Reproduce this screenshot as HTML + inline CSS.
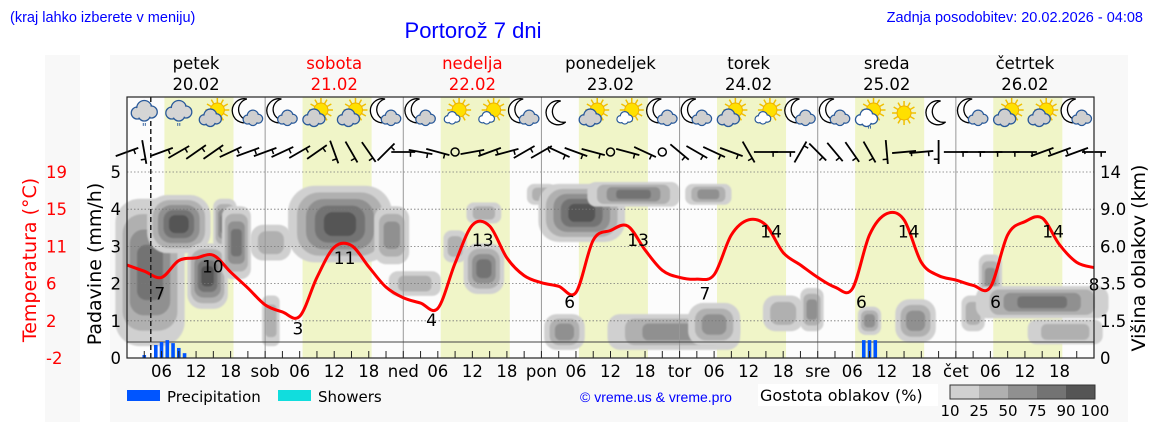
<!DOCTYPE html>
<html><head><meta charset="utf-8">
<style>
html,body{margin:0;padding:0;background:#fff;width:1152px;height:443px;overflow:hidden}
svg{display:block}
.t{font-family:"DejaVu Sans","Liberation Sans",sans-serif}
.b{font-family:"Liberation Sans","DejaVu Sans",sans-serif}
</style></head><body>
<svg id="chart" width="1152" height="443" viewBox="0 0 1152 443" xmlns="http://www.w3.org/2000/svg">
<rect x="45" y="55" width="35" height="367" fill="#f8f8f8"/>
<rect x="110" y="55" width="1018" height="367" fill="#f8f8f8"/>
<text class="b" x="10" y="22" font-size="14.5" fill="#0000ff">(kraj lahko izberete v meniju)</text>
<text class="b" x="473" y="38" font-size="22" fill="#0000ff" text-anchor="middle">Portorož 7 dni</text>
<text class="b" x="1143" y="22" font-size="14.5" fill="#0000ff" text-anchor="end">Zadnja posodobitev: 20.02.2026 - 04:08</text>
<g id="plot"></g>
<g id="axes"></g>
<text class="t" transform="translate(36,260) rotate(-90)" font-size="19" fill="#ff0000" text-anchor="middle">Temperatura (°C)</text>
<text class="t" transform="translate(101,264) rotate(-90)" font-size="19" fill="#000" text-anchor="middle">Padavine (mm/h)</text>
<text class="t" transform="translate(1145,258) rotate(-90)" font-size="19" fill="#000" text-anchor="middle">Višina oblakov (km)</text>
<g>
<rect x="127" y="390" width="33" height="11" fill="#0055ff"/>
<text class="t" x="167" y="402" font-size="15">Precipitation</text>
<rect x="278" y="390" width="33" height="11" fill="#11dddd"/>
<text class="t" x="318" y="402" font-size="15">Showers</text>
<text class="b" x="580" y="402" font-size="14" fill="#0000ff">© vreme.us &amp; vreme.pro</text>
<rect x="758" y="384" width="180" height="22" fill="#fff"/>
<text class="t" x="760" y="401" font-size="16">Gostota oblakov (%)</text>
<g id="cbar"></g>
</g>
</svg>
<script>
// ---- data ----
const tempHours = [0,3,6,9,12,15,18,21,24,27,30,33,36,39,42,45,48,51,54,57,60,63,66,69,72,75,78,81,84,87,90,93,96,99,102,105,108,111,114,117,120,123,126,129,132,135,138,141,144,147,150,153,156,159,162,165,168];
const tempValues = [8.5,7.8,7.1,9.0,9.3,9.6,7.7,5.9,4.0,3.2,2.7,7.1,10.5,10.7,8.3,6.0,4.8,4.2,3.6,8.7,13.0,12.9,9.3,7.3,6.5,6.1,5.4,11.3,12.4,12.9,10.2,7.9,7.1,6.9,7.4,11.9,13.6,13.0,9.9,8.5,7.1,6.0,5.8,11.9,14.3,13.6,8.8,7.3,6.8,6.2,6.0,11.9,13.4,13.8,10.8,8.8,8.2];
const tempLabelHours = [5.7,14.9,29.7,37.8,52.9,61.8,76.9,88.8,100.4,111.9,127.6,135.8,150.9,160.9,168];
const tempLabelValues = [7,10,3,11,4,13,6,13,7,14,6,14,6,14,8];
const precipHours = [3,5,6,7,8,9,10,128,129,130];
const precipValues = [0.08,0.35,0.43,0.48,0.4,0.27,0.13,0.48,0.48,0.48];
const precipTicks = [0,1,2,3,4,5];
const tempTicks = [19,15,11,6,2,-2];
const heightTicks = ["0","1.5","3.5","6.0","9.0","14"];
const dayNames = ["petek","sobota","nedelja","ponedeljek","torek","sreda","četrtek"];
const dayDates = ["20.02","21.02","22.02","23.02","24.02","25.02","26.02"];
const dayAbbr = ["","sob","ned","pon","tor","sre","čet"];
const iconTypes = ["rain","rain","suncloud","mooncloud","mooncloud","suncloud","suncloud","mooncloud","mooncloud","sunsmall","sunsmall","mooncloud","moon","suncloud","sunsmall","mooncloud","mooncloud","suncloud","sunsmall","mooncloud","mooncloud","sunrain","sun","moon","mooncloud","suncloud","suncloud","mooncloud"];
const windAngles = [-20,80,-20,-30,-35,-35,-25,-20,-20,-25,-30,-35,70,60,55,-45,0,10,15,999,-10,-20,-15,-30,-30,25,20,15,999,15,25,999,40,30,25,20,60,0,0,-60,45,50,55,60,85,-5,-5,90,0,0,0,0,0,-20,-20,-20,0];
// clouds: hour, level (mm/h-axis units), duration h, thickness, density %
const cloudHour = [4,9,14,17,19,25,25,37,46,50,57,62,62,72,79,76,88,101,95,102,114,119,129,137,147,150,159,163];
const cloudLevel = [2.3,3.6,2.2,3.6,3.1,3.1,1.0,3.6,3.3,2.0,3.0,2.4,3.9,4.4,3.9,0.7,4.4,4.4,0.7,0.9,1.2,1.3,1.0,1.0,1.2,2.1,1.5,0.7];
const cloudDur = [11,10,6,3,4,6,2,17,5,8,3,6,5,4,14,6,15,7,22,8,6,3,3,6,3,3,22,12];
const cloudThick = [3.8,1.4,1.6,1.2,1.8,0.8,1.2,1.9,1.4,0.5,0.7,1.2,0.4,0.4,1.4,0.8,0.5,0.4,0.8,1.0,0.8,1.0,0.6,1.0,0.8,1.2,0.7,0.5];
const cloudDens = [75,90,90,75,75,25,25,90,50,25,25,75,25,25,90,50,75,50,50,50,25,50,50,50,25,50,75,25];
const cbarLevels = [10,25,50,75,90,100];

// ---- scales ----
const X0=127, X1=1094, Y0=97, YB=358;
const xh = h => X0 + h*(X1-X0)/168;
const yP = v => YB - v*37.2;
const yT = t => YB - (t+2)*8.857;
const NS="http://www.w3.org/2000/svg";
function mk(tag, attrs, parent){const e=document.createElementNS(NS,tag);for(const k in attrs)e.setAttribute(k,attrs[k]);parent.appendChild(e);return e;}
const plot=document.getElementById('plot'), axes=document.getElementById('axes');
const shade = d => d>=90?'#555555':d>=75?'#737373':d>=50?'#909090':d>=25?'#b0b0b0':'#d0d0d0';

let e=mk('rect',{x:X0,y:Y0,width:X1-X0,height:YB-Y0,fill:'#fcfcfc'},plot);


for(let d=0;d<7;d++){
  e=mk('rect',{x:xh(d*24+6.5),y:Y0,width:xh(18.5)-xh(6.5),height:YB-Y0,fill:'#f0f5c8'},plot);
  
  
}
const defs=mk('defs',{},plot);
const f=mk('filter',{id:'bl',x:'-30%',y:'-30%',width:'160%',height:'160%'},defs);
mk('feGaussianBlur',{stdDeviation:'0.8'},f);
const levels=[10,25,50,75,90];
for(let i=0;i<cloudHour.length;i++){
  const g=mk('g',{filter:'url(#bl)'},plot);
  
  
  const cx=xh(cloudHour[i]), cy=yP(cloudLevel[i]);
  const w=(xh(cloudDur[i])-xh(0))+6, hgt=cloudThick[i]*37.2+6;
  const lv=levels.filter(l=>l<=cloudDens[i]);
  lv.forEach((l,k)=>{
    const s=1-k/(lv.length+0.8);
    const ww=w*s, hh=hgt*s;
    mk('rect',{x:cx-ww/2,y:cy-hh/2,width:ww,height:hh,rx:Math.min(ww,hh)*0.35,fill:shade(l)},g);
  });
}
for(const v of [1,2,3,4,5]){
  e=mk('line',{x1:X0,x2:X1,y1:yP(v),y2:yP(v),stroke:'#777','stroke-dasharray':'1.5,2','stroke-width':0.8},plot);
  
  
}
for(let d=1;d<7;d++){
  e=mk('line',{x1:xh(d*24),x2:xh(d*24),y1:Y0,y2:YB,stroke:'#999','stroke-width':1},plot);
  
  
}
e=mk('line',{x1:X0,x2:X1,y1:342,y2:342,stroke:'#444','stroke-width':1},plot);


for(let i=0;i<precipHours.length;i++){
  e=mk('rect',{x:xh(precipHours[i])-1.8,y:yP(precipValues[i]),width:3.6,height:YB-yP(precipValues[i]),fill:'#0055ff'},plot);
  
  
}
const pts=tempHours.map((h,i)=>[xh(h),yT(tempValues[i])]);
let dstr='M'+pts[0][0]+','+pts[0][1];
for(let i=0;i<pts.length-1;i++){
  const p0=pts[Math.max(0,i-1)],p1=pts[i],p2=pts[i+1],p3=pts[Math.min(pts.length-1,i+2)];
  dstr+=' C'+(p1[0]+(p2[0]-p0[0])/6)+','+(p1[1]+(p2[1]-p0[1])/6)+' '+(p2[0]-(p3[0]-p1[0])/6)+','+(p2[1]-(p3[1]-p1[1])/6)+' '+p2[0]+','+p2[1];
}
e=mk('path',{d:dstr,fill:'none',stroke:'#ff0000','stroke-width':3,'stroke-linejoin':'round'},plot);


for(let i=0;i<tempLabelHours.length;i++){
  e=mk('text',{x:xh(tempLabelHours[i]),y:yT(tempLabelValues[i])+21,'font-size':17,'text-anchor':'middle',class:'t',fill:'#000'},plot);
  e.textContent=tempLabelValues[i];
  
  
}
e=mk('line',{x1:xh(4.13),x2:xh(4.13),y1:Y0,y2:YB,stroke:'#222','stroke-width':1.5,'stroke-dasharray':'5,3'},plot);


function cloud(g,x,y,s,fill){
  for(const c of [[-7,2,6],[0,-3,7.5],[7,1,6],[0,4,6]])mk('circle',{cx:x+c[0]*s,cy:y+c[1]*s,r:c[2]*s,fill:fill,stroke:'#2a5a9a','stroke-width':1.3},g);
  for(const c of [[-7,2,5],[0,-3,6.5],[7,1,5],[0,4,5]])mk('circle',{cx:x+c[0]*s,cy:y+c[1]*s,r:c[2]*s,fill:fill},g);
}
function sun(g,x,y){
  for(let a=0;a<360;a+=30){const r=a*Math.PI/180;mk('line',{x1:x+7*Math.cos(r),y1:y+7*Math.sin(r),x2:x+12*Math.cos(r),y2:y+12*Math.sin(r),stroke:'#f0c000','stroke-width':1.5},g);}
  mk('circle',{cx:x,cy:y,r:7,fill:'#ffe000',stroke:'#f0b000'},g);
}
function moon(g,x,y){
  mk('path',{d:`M${x+2},${y-12} A12,12 0 1,0 ${x+7},${y+9} A10,10 0 0,1 ${x+2},${y-12}Z`,fill:'#fff',stroke:'#000','stroke-width':1.3},g);
}
iconTypes.forEach((t,i)=>{
  const x=xh(3+i*6), y=113;
  const g=mk('g',{},plot);
  
  
  if(t==='rain'){cloud(g,x,y-2,1,'#d5d5d5');mk('text',{x:x,y:y+18,'font-size':11,'text-anchor':'middle',fill:'#2a5a9a',class:'t'},g).textContent='"';}
  if(t==='suncloud'||t==='sunsmall'||t==='sunrain'){sun(g,x+4,y-3);cloud(g,x-3,y+5,t==='sunsmall'?0.6:0.85,t==='suncloud'?'#cfcfcf':'#fff');if(t==='sunrain')mk('text',{x:x,y:y+20,'font-size':10,'text-anchor':'middle',fill:'#2a5a9a',class:'t'},g).textContent='"';}
  if(t==='sun')sun(g,x,y);
  if(t==='moon')moon(g,x,y);
  if(t==='mooncloud'){moon(g,x-3,y-2);cloud(g,x+5,y+5,0.75,'#cfcfcf');}
});
windAngles.forEach((a,i)=>{
  const x=xh(i*3), y=152;
  const g=mk('g',{},plot);
  
  
  if(a===999){mk('circle',{cx:x,cy:y,r:4,fill:'none',stroke:'#000','stroke-width':1.5},g);return;}
  const r=a*Math.PI/180, L=12, dx=L*Math.cos(r), dy=L*Math.sin(r);
  mk('line',{x1:x-dx,y1:y-dy,x2:x+dx,y2:y+dy,stroke:'#000','stroke-width':1.8},g);
  mk('line',{x1:x+dx*0.6,y1:y+dy*0.6,x2:x+dx*0.6-dy*0.4,y2:y+dy*0.6+dx*0.4,stroke:'#000','stroke-width':1.5},g);
});
e=mk('rect',{x:X0,y:Y0,width:X1-X0,height:YB-Y0,fill:'none',stroke:'#222','stroke-width':1.2},axes);


for(let h=0;h<=168;h+=3){
  e=mk('line',{x1:xh(h),x2:xh(h),y1:YB,y2:YB-7,stroke:'#222','stroke-width':1},axes);
  
  
}
for(let d=0;d<7;d++){
  [[0,dayAbbr[d]],[6,'06'],[12,'12'],[18,'18']].forEach(([hh,lab])=>{
    if(!lab)return;
    e=mk('text',{x:xh(d*24+hh),y:377,'font-size':16.5,'text-anchor':'middle',class:'t'},axes);
    e.textContent=lab;
    
    
  });
  const wk=(d===1||d===2)?'#ff0000':'#000';
  e=mk('text',{x:xh(d*24+12),y:69,'font-size':16.5,'text-anchor':'middle',fill:wk,class:'t'},axes);
  e.textContent=dayNames[d];
  
  
  e=mk('text',{x:xh(d*24+12),y:90,'font-size':16.5,'text-anchor':'middle',fill:wk,class:'t'},axes);
  e.textContent=dayDates[d];
  
  
}
precipTicks.forEach(v=>{
  e=mk('text',{x:121,y:yP(v)+6,'font-size':16.5,'text-anchor':'end',class:'t'},axes);
  e.textContent=v;
  
  
});
tempTicks.forEach((v,i)=>{
  e=mk('text',{x:46,y:yP(5-i)+6,'font-size':16.5,fill:'#ff0000',class:'t'},axes);
  e.textContent=v;
  
  
});
heightTicks.forEach((v,i)=>{
  e=mk('text',{x:1100,y:yP(i)+6,'font-size':16.5,class:'t'},axes);
  e.textContent=v;
  
  
});
const cb=document.getElementById('cbar');
for(let i=0;i<5;i++){
  e=mk('rect',{x:950+i*29,y:385,width:29,height:14,fill:shade(cbarLevels[i])},cb);
  
  
}
mk('rect',{x:950,y:385,width:145,height:14,fill:'none',stroke:'#333'},cb);
cbarLevels.forEach((v,i)=>{
  e=mk('text',{x:950+i*29,y:416,'font-size':15,'text-anchor':'middle',class:'t'},cb);
  e.textContent=v;
  
  
});
</script>
</body></html>
